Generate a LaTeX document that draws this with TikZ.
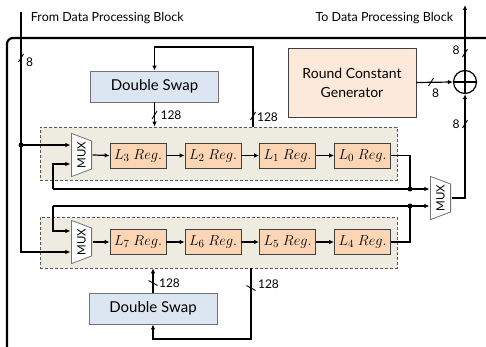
\documentclass[tikz,border=0pt]{standalone}
\usepackage{fontspec}
\setmainfont{Lato}
\usepackage{graphicx}
\usetikzlibrary{arrows.meta}
\definecolor{regfill}{RGB}{252,213,181}
\definecolor{rcgfill}{RGB}{253,233,217}
\definecolor{swapfill}{RGB}{220,230,242}
\definecolor{grpfill}{RGB}{238,236,225}
\tikzset{
  slash/.pic={\draw[line width=0.9pt] (-2.5pt,-4pt) -- (2.5pt,4pt);},
  bslash/.pic={\draw[line width=0.9pt] (-4.5pt,2.5pt) -- (4.5pt,-2.5pt);}
}
\begin{document}
\begin{tikzpicture}[x=1pt,y=-1pt,line width=1.2pt,>={Latex[length=5pt,width=4.5pt]},
  every node/.style={font=\fontsize{12.5}{14}\selectfont},
  reg/.style={draw=black!75,line width=0.8pt,fill=regfill,minimum width=56pt,minimum height=25pt,
    inner sep=0pt,font=\fontsize{15}{16}\selectfont},
  swap/.style={draw=black!55,line width=0.8pt,fill=swapfill,minimum width=128pt,minimum height=31pt,
    inner sep=0pt,font=\fontsize{15}{16}\selectfont},
  grp/.style={draw=black!65,densely dashed,line width=0.6pt,fill=grpfill,minimum width=357pt,inner sep=0pt},
  mux/.style={minimum width=21pt,minimum height=44pt,inner sep=0pt,font=\fontsize{11.5}{12}\selectfont,
    path picture={\draw[black!55,line width=0.8pt,fill=white]
      ([xshift=0.4pt,yshift=-0.4pt]path picture bounding box.north west)
      -- ([xshift=-0.4pt,yshift=-8pt]path picture bounding box.north east)
      -- ([xshift=-0.4pt,yshift=8pt]path picture bounding box.south east)
      -- ([xshift=0.4pt,yshift=0.4pt]path picture bounding box.south west) -- cycle;}},
  dot/.style={circle,fill,inner sep=0pt,minimum size=5pt},
  wid/.style={inner sep=0pt,font=\fontsize{12}{13}\selectfont}]
  \useasboundingbox (0,0) rectangle (486,347);
  \draw[line width=2.2pt,rounded corners=6pt] (486,38) -- (7,38) -- (7,347);
  \node[anchor=west] (fromtxt) at (27,18) {From Data Processing Block};
  \node[anchor=east] (totxt) at (457,18) {To Data Processing Block};
  \node[grp,minimum height=53pt] (grpU) at (218.5,153.5) {};
  \node[grp,minimum height=51pt] (grpL) at (218.5,242.5) {};
  \node[swap] (ds1) at (154.5,86.5) {Double Swap};
  \node[swap] (ds2) at (153,308.5) {Double Swap};
  \node[draw=black!75,line width=0.8pt,fill=rcgfill,minimum width=128pt,minimum height=69pt,
    align=center,font=\fontsize{14}{19}\selectfont] (rcg) at (352,82.5) {Round Constant\\Generator};
  \node[circle,draw,minimum size=23pt,inner sep=0pt,
    path picture={\draw (path picture bounding box.north) -- (path picture bounding box.south)
      (path picture bounding box.west) -- (path picture bounding box.east);}] (xor) at (465,82) {};
  \node[mux] (muxU) at (81.5,155) {\rotatebox{90}{MUX}};
  \node[mux] (muxL) at (81.5,242) {\rotatebox{90}{MUX}};
  \node[mux] (muxR) at (440.5,198) {\rotatebox{90}{MUX}};
  \node[reg] (L3) at (138,155.5) {$L_3\ Reg.$};
  \node[reg] (L2) at (213,155.5) {$L_2\ Reg.$};
  \node[reg] (L1) at (287.5,155.5) {$L_1\ Reg.$};
  \node[reg] (L0) at (362.5,155.5) {$L_0\ Reg.$};
  \node[reg] (L7) at (138,242) {$L_7\ Reg.$};
  \node[reg] (L6) at (213,242) {$L_6\ Reg.$};
  \node[reg] (L5) at (287.5,242) {$L_5\ Reg.$};
  \node[reg] (L4) at (362.5,242) {$L_4\ Reg.$};
  \node[dot] (jf) at (21,145) {};
  \node[dot] (d1) at (410,189) {};
  \node[dot] (d2) at (410,206) {};
  \coordinate (from) at (21,12);
  \coordinate (toblk) at (465,5);
  \coordinate (fbU) at (53,189);
  \coordinate (fbL) at (53,206);
  \coordinate (s1) at (253,47);
  \coordinate (s2) at (251,339);

  \draw (from) -- (jf.center);
  \draw[->] (jf.center) -- (jf.center -| muxU.west);
  \draw[->] (jf.center) |- ([yshift=-10pt]muxL.west);
  \draw[->] (muxU.east) -- (L3.west);
  \draw[->] (muxL.east) -- (L7.west);
  \foreach \a/\b in {L3/L2,L2/L1,L1/L0,L7/L6,L6/L5,L5/L4}
    \draw[->] (\a) -- (\b);
  \draw (L0.east) -| (d1.center);
  \draw (L4.east) -| (d2.center);
  \draw[->] (fbU) -- (d1.center) -- (d1.center -| muxR.west);
  \draw[->] (fbL) -- (d2.center) -- (d2.center -| muxR.west);
  \draw[->] (fbU) |- ([yshift=-9pt]muxU.west);
  \draw[->] (fbL) |- ([yshift=11pt]muxL.west);
  \draw[->] (muxR.east) -| (xor.south);
  \draw[->] (rcg.east) -- (xor.west);
  \draw[->] (xor.north) -- (toblk);
  \draw[->] (ds1.south) -- (ds1.south |- grpU.north);
  \draw[->] (grpU.north -| s1) -- (s1) -| (ds1.north);
  \draw[->] (ds2.north) -- (ds2.north |- grpL.south);
  \draw[->] (grpL.south -| s2) -- (s2) -| (ds2.south);

  \pic at (21,58) {slash};
  \pic at (154.5,115) {slash};
  \pic at (253,116) {slash};
  \pic at (431,82) {slash};
  \pic at (465,53) {slash};
  \pic at (465,124) {slash};
  \pic at (153,283) {bslash};
  \pic at (251,288) {bslash};
  \node[wid] (w1) at (29.5,62.5) {8};
  \node[wid] (w2) at (171,115.5) {128};
  \node[wid] (w3) at (267.5,117.5) {128};
  \node[wid] (w4) at (435.5,93) {8};
  \node[wid] (w5) at (456,50) {8};
  \node[wid] (w6) at (456,124) {8};
  \node[wid] (w7) at (169.5,283.5) {128};
  \node[wid] (w8) at (268.5,284.5) {128};
\end{tikzpicture}
\end{document}
